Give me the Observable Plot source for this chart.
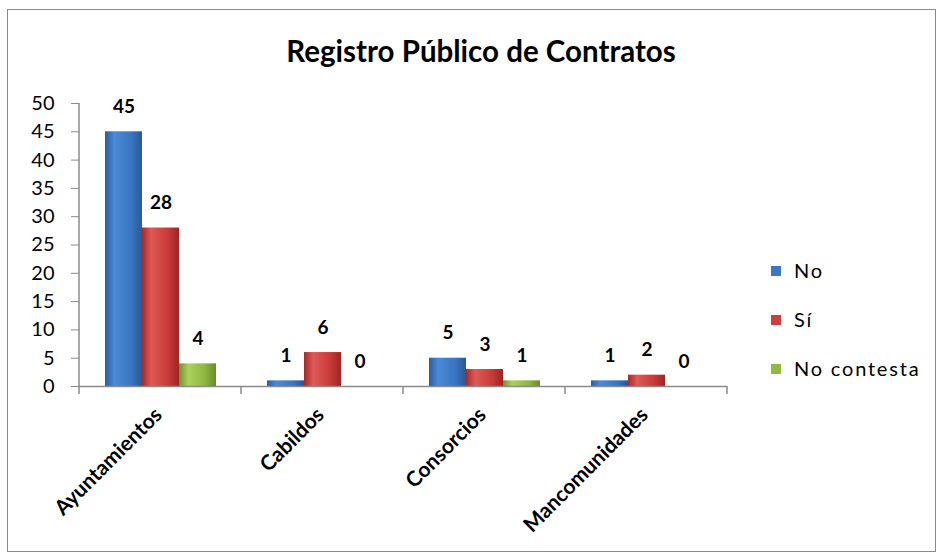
<!DOCTYPE html>
<html><head><meta charset="utf-8">
<script src="https://cdn.jsdelivr.net/npm/d3@7"></script>
<script src="https://cdn.jsdelivr.net/npm/@observablehq/plot@0.6"></script>
<style>
body{margin:0;background:#fff;font-family:Lato,sans-serif}
#wrap{position:relative;width:939px;height:559px;overflow:hidden}
#border{position:absolute;left:7px;top:9px;width:929px;height:543px;border:1.5px solid #8a8a8a;box-sizing:border-box}
#title{position:absolute;left:0;width:962px;top:33px;text-align:center;font-weight:bold;font-size:29.5px;color:#000}
#legend{position:absolute;left:771px;top:258px;font-size:20px;letter-spacing:1.8px;color:#000}
#legend div{height:49px;display:flex;align-items:flex-start}
#legend span.sw{display:inline-block;width:10px;height:10px;margin-top:8px;margin-right:13px}
#chart{position:absolute;left:0;top:0}
</style></head>
<body>
<div id="wrap">
  <div id="border"></div>
  <div id="chart"></div>
  <div id="title">Registro Público de Contratos</div>
  <div id="legend"></div>
</div>
<script>
const categories = ["Ayuntamientos", "Cabildos", "Consorcios", "Mancomunidades"];
const series = ["No", "Sí", "No contesta"];
const noValues = [45, 1, 5, 1];
const siValues = [28, 6, 3, 2];
const noContestaValues = [4, 0, 1, 0];
const yTicks = [0, 5, 10, 15, 20, 25, 30, 35, 40, 45, 50];
const seriesColors = ["#3b78c6", "#cc3d3b", "#92b944"];
const gradientIds = ["gNo", "gSi", "gNc"];
const gradientStops = [
  ["#2c5d9e", "#4a8ad6", "#3a76c2", "#2a5896"],
  ["#a32a28", "#de5a57", "#c83a38", "#9c2624"],
  ["#6f9130", "#acd25c", "#8fb640", "#6a8a2c"]
];

const valuesBySeries = [noValues, siValues, noContestaValues];
const rows = [];
categories.forEach((c, i) => {
  series.forEach((s, j) => rows.push({category: c, series: s, value: valuesBySeries[j][i]}));
});

const plot = Plot.plot({
  width: 939,
  height: 559,
  marginLeft: 78,
  marginRight: 212,
  marginTop: 103,
  marginBottom: 173,
  style: {background: "transparent", fontFamily: "Lato, sans-serif", color: "#000"},
  fx: {domain: categories, padding: 0, label: null},
  x: {domain: series, paddingInner: 0, paddingOuter: 0.67, axis: null},
  y: {domain: [0, 50], label: null},
  color: {domain: series, range: gradientIds.map(id => `url(#${id})`)},
  marks: [
    Plot.barY(rows, {fx: "category", x: "series", y: "value", fill: "series"}),
    Plot.ruleY([0], {stroke: "#8a8a8a", strokeWidth: 1.5}),
    Plot.text(rows, {fx: "category", x: "series", y: "value", text: d => String(d.value),
      dy: -25, fontWeight: "bold", fontSize: 19, fill: "#000"}),
    Plot.axisY({ticks: yTicks, tickSize: 8, tickPadding: 17, fontSize: 20, stroke: "#8a8a8a", label: null}),
    Plot.axisFx({anchor: "bottom", tickSize: 0, tickRotate: -45, tickPadding: 25, fontSize: 21,
      fontWeight: "bold", label: null, textAnchor: "end", dx: -2})
  ]
});

// gradients for the bevelled bar look
const svg = d3.select(plot);
const defs = svg.insert("defs", ":first-child");
gradientIds.forEach((id, k) => {
  const g = defs.append("linearGradient").attr("id", id).attr("x1", 0).attr("x2", 1).attr("y1", 0).attr("y2", 0);
  const st = gradientStops[k];
  g.append("stop").attr("offset", "0%").attr("stop-color", st[0]);
  g.append("stop").attr("offset", "25%").attr("stop-color", st[1]);
  g.append("stop").attr("offset", "70%").attr("stop-color", st[2]);
  g.append("stop").attr("offset", "100%").attr("stop-color", st[3]);
});

// y axis line and category separator ticks, from the plot's scales
const fx = plot.scale("fx");
const y = plot.scale("y");
const bw = fx.bandwidth;
const y0 = y.apply(0), y50 = y.apply(50);
const x0 = fx.apply(categories[0]);
const g = svg.append("g").attr("stroke", "#8a8a8a").attr("stroke-width", 1.5);
g.append("line").attr("x1", x0).attr("x2", x0).attr("y1", y50).attr("y2", y0);
categories.forEach(c => {
  const xl = fx.apply(c);
  g.append("line").attr("x1", xl).attr("x2", xl).attr("y1", y0).attr("y2", y0 + 8);
});
const xr = fx.apply(categories[categories.length - 1]) + bw;
g.append("line").attr("x1", xr).attr("x2", xr).attr("y1", y0).attr("y2", y0 + 8);

document.getElementById("chart").appendChild(plot);

const legend = document.getElementById("legend");
series.forEach((s, i) => {
  const row = document.createElement("div");
  const sw = document.createElement("span");
  sw.className = "sw";
  sw.style.background = seriesColors[i];
  row.appendChild(sw);
  row.appendChild(document.createTextNode(s));
  legend.appendChild(row);
});
</script>
</body></html>
